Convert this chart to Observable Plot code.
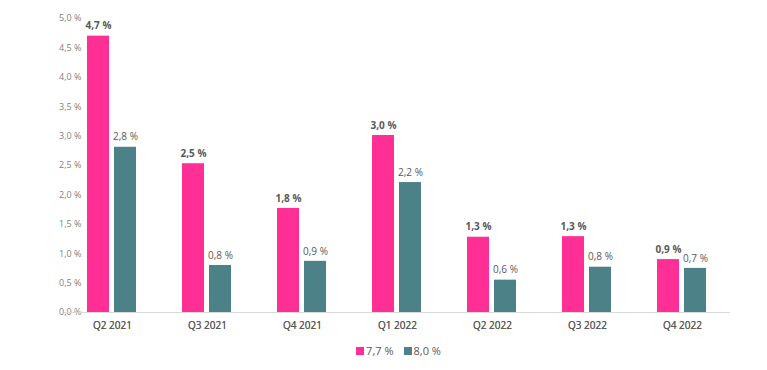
<!DOCTYPE html>
<html><head><meta charset="utf-8">
<script src="https://cdn.jsdelivr.net/npm/d3@7"></script>
<script src="https://cdn.jsdelivr.net/npm/@observablehq/plot@0.6"></script>
<style>
body{margin:0;background:#fff;font-family:"Open Sans",sans-serif;}
#legend{display:flex;justify-content:center;gap:10px;font-size:11px;color:#595959;margin-top:5px;padding-left:30px}
#legend span.sw{display:inline-block;width:8px;height:8px;margin-right:2px;vertical-align:middle;position:relative;top:-1px}
</style></head><body>
<div id="chart"></div>
<div id="legend"></div>
<script>
const quarters = ["Q2 2021","Q3 2021","Q4 2021","Q1 2022","Q2 2022","Q3 2022","Q4 2022"];
const seriesNames = ["7,7 %","8,0 %"];
const seriesA = [4.7, 2.53, 1.77, 3.01, 1.28, 1.29, 0.90];
const seriesB = [2.81, 0.80, 0.87, 2.21, 0.55, 0.77, 0.75];
const labelsA = ["4,7 %","2,5 %","1,8 %","3,0 %","1,3 %","1,3 %","0,9 %"];
const labelsB = ["2,8 %","0,8 %","0,9 %","2,2 %","0,6 %","0,8 %","0,7 %"];
const yTicks = [0,0.5,1,1.5,2,2.5,3,3.5,4,4.5,5];
const colors = ["#ff2f96","#4d8188"];

const data = [];
quarters.forEach((q,i)=>{
  data.push({q, s: seriesNames[0], v: seriesA[i], label: labelsA[i]});
  data.push({q, s: seriesNames[1], v: seriesB[i], label: labelsB[i]});
});
const fmt = d => d.toFixed(1).replace(".", ",") + " %";

const chart = Plot.plot({
  width: 767, height: 338,
  marginTop: 18, marginBottom: 26, marginLeft: 63, marginRight: 37,
  style: {fontFamily: "Open Sans, sans-serif", color: "#595959"},
  fx: {domain: quarters, paddingInner: 0.474, paddingOuter: 0.242, label: null, axis: "bottom"},
  x: {domain: seriesNames, paddingInner: 0.18, paddingOuter: 0, axis: null},
  y: {domain: [0,5], ticks: yTicks, label: null},
  color: {domain: seriesNames, range: colors},
  marks: [
    Plot.axisY({ticks: yTicks, tickFormat: fmt, tickSize: 0, tickPadding: 6, fontSize: 9, fill: "#7f7f7f"}),
    Plot.axisFx({anchor: "bottom", tickSize: 0, tickPadding: 9, fontSize: 10, fill: "#595959", label: null}),
    Plot.ruleY([0], {stroke: "#d9d9d9", insetLeft: -23, insetRight: -23}),
    Plot.barY(data, {fx: "q", x: "s", y: "v", fill: "s", inset: 0}),
    Plot.text(data.filter(d=>d.s===seriesNames[0]), {fx: "q", x: "s", y: "v", text: "label", dy: -10, fontSize: 10, fontWeight: "bold", fill: "#595959"}),
    Plot.text(data.filter(d=>d.s===seriesNames[1]), {fx: "q", x: "s", y: "v", text: "label", dy: -10, fontSize: 10, fill: "#595959"})
  ]
});
document.getElementById("chart").append(chart);
const lg = document.getElementById("legend");
seriesNames.forEach((n,i)=>{
  const d = document.createElement("div");
  d.innerHTML = `<span class="sw" style="background:${colors[i]}"></span>${n}`;
  lg.append(d);
});
</script>
</body></html>
